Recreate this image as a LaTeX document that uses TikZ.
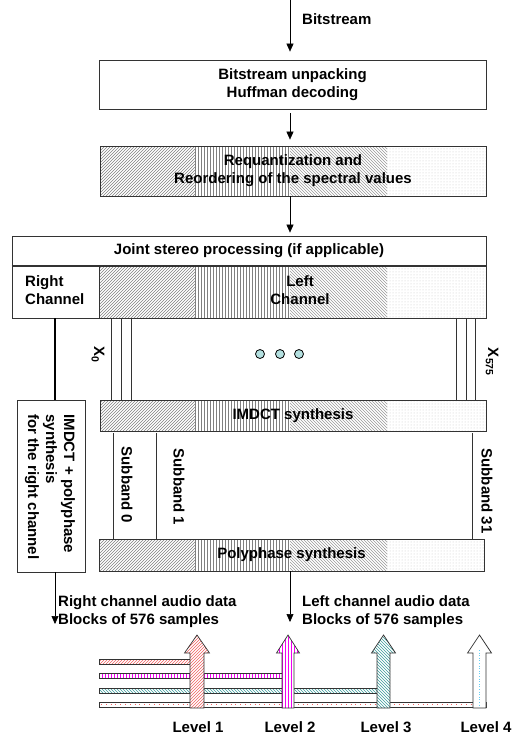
\documentclass[tikz,border=0pt]{standalone}
\usepackage{fontspec}
\setmainfont{Liberation Sans}
\usetikzlibrary{patterns,arrows.meta}
\definecolor{boxline}{HTML}{333333}
\definecolor{hatchgray}{HTML}{808080}
\definecolor{dotgray}{HTML}{C8C8C8}
\definecolor{redh}{HTML}{F06060}
\definecolor{magh}{HTML}{F000F0}
\definecolor{tealh}{HTML}{3A9A9A}
\definecolor{dotcirc}{HTML}{B4E0E0}
\begin{document}
\begin{tikzpicture}[x=1pt,y=-1pt,
  box/.style={draw=boxline, line width=0.8pt, inner sep=0pt},
  lbl/.style={font=\bfseries\fontsize{15}{18}\selectfont, align=center, inner sep=0pt},
  arr/.style={-{Triangle[length=8pt,width=7pt]}, line width=0.6pt},
  thin/.style={line width=0.6pt, draw=boxline},
  segA/.style={pattern=north east lines, pattern color=hatchgray},
  segB/.style={pattern=vertical lines, pattern color=hatchgray},
  segC/.style={pattern=north west lines, pattern color=hatchgray!80},
  segD/.style={pattern=dots, pattern color=dotgray},
  bar/.style={draw=boxline, line width=0.7pt},
]
\useasboundingbox (0,0) rectangle (516,740);

% helper: four-segment hatched band
\newcommand{\bandfill}[4]{%
  \fill[segA] (#1,#3) rectangle (195,#4);
  \fill[segB] (195,#3) rectangle (290,#4);
  \fill[segC] (290,#3) rectangle (387,#4);
  \fill[segD] (387,#3) rectangle (#2,#4);
}

% top input
\coordinate (bs) at (290,0);
\node[lbl, anchor=west] (bstxt) at (302,19) {Bitstream};

% Bitstream unpacking
\node[box, minimum width=387pt, minimum height=49pt] (unpack) at (292.5,84.5) {};
\node[lbl] (unpacktxt) at (unpack.center) {Bitstream unpacking\\Huffman decoding};

% Requantization
\bandfill{100}{486}{146}{196}
\node[box, minimum width=386pt, minimum height=50pt] (requant) at (293,171) {};
\node[lbl] (requanttxt) at (requant.center) {Requantization and\\Reordering of the spectral values};

% Joint stereo
\node[box, minimum width=474pt, minimum height=30pt] (joint) at (249,251) {};
\node[lbl] (jointtxt) at (joint.center) {Joint stereo processing (if applicable)};

% Right / Left channel
\node[box, minimum width=87pt, minimum height=52pt] (right) at (55.5,292) {};
\node[lbl, align=left, anchor=west] (righttxt) at (25,290) {Right\\Channel};
\bandfill{99}{486}{266}{318}
\node[box, minimum width=387pt, minimum height=52pt] (left) at (292.5,292) {};
\node[lbl] (lefttxt) at (300,290) {Left\\Channel};
\draw[boxline, line width=2pt] (joint.south west) -- (joint.south east);

% IMDCT synthesis
\bandfill{100}{486}{400}{431}
\node[box, minimum width=386pt, minimum height=31pt] (imdct) at (293,415.5) {};
\node[lbl] (imdcttxt) at (imdct.center) {IMDCT synthesis};

% Polyphase synthesis
\bandfill{99}{484}{539}{571}
\node[box, minimum width=385pt, minimum height=32pt] (poly) at (291.5,555) {};
\node[lbl] (polytxt) at (poly.center) {Polyphase synthesis};

% right channel box
\node[box, minimum width=68pt, minimum height=172pt, fill=white] (rbox) at (51,486) {};
\node[lbl, align=left, rotate=-90] (rboxtxt) at (50,487) {IMDCT + polyphase\\synthesis\\for the right channel};

% arrows top
\draw[arr, shorten >=8pt] (bs) -- (bs |- unpack.north);
\draw[arr, shorten <=4pt, shorten >=6pt] (unpack.south -| bs) -- (requant.north -| bs);
\draw[arr, shorten >=3pt] (requant.south -| bs) -- (joint.north -| bs);

% right channel thick link
\draw[line width=2.6pt] (55,318) -- (55,400);

% X lines
\foreach \xx in {111,121,131,456,466,475}
  \draw[thin] (\xx,318) -- (\xx,400);
\node[lbl, rotate=-90] (x0) at (98,355) {X\textsubscript{0}};
\node[lbl, rotate=-90] (x575) at (492,362) {X\textsubscript{575}};

% dots
\foreach \cx [count=\i] in {260,280,299}
  \draw[line width=0.8pt, fill=dotcirc] (\cx,354) circle (4.5pt);

% subband lines
\foreach \xx in {113,156,472}
  \draw[thin] (\xx,433) -- (\xx,539);
\node[lbl, rotate=-90] (sb0) at (127,485) {Subband 0};
\node[lbl, rotate=-90] (sb1) at (179,487) {Subband 1};
\node[lbl, rotate=-90] (sb31) at (487,491) {Subband 31};

% outputs
\coordinate (rout) at (55,624);
\coordinate (lout) at (290,622);
\draw[arr] (rbox.south -| rout) -- (rout);
\draw[arr] (poly.south -| lout) -- (lout);
\node[lbl, align=left, anchor=west] (rtxt) at (58,612) {Right channel audio data\\Blocks of 576 samples};
\node[lbl, align=left, anchor=west] (ltxt) at (302,612) {Left channel audio data\\Blocks of 576 samples};

% bars
\draw[bar, pattern=north east lines, pattern color=redh] (99,659) rectangle (190,664);
\draw[bar, pattern=vertical lines, pattern color=magh] (99,673) rectangle (282,678);
\draw[bar, pattern=north west lines, pattern color=tealh] (99,688) rectangle (377,693);
\draw[bar] (99,702) rectangle (486,707);
\draw[redh, line width=0.8pt, dash pattern=on 0.8pt off 4pt] (101,704.5) -- (472,704.5);

% level arrows
\newcommand{\lvlarrow}[3]{% left x of shaft, right x of shaft, style
  \draw[bar, preaction={fill=white}, #3]
    (#1,708) -- (#1,653) -- ({#1-5.5},653) -- ({(#1+#2)/2},635) -- ({#2+5.5},653) -- (#2,653) -- (#2,708) -- cycle;
}
\lvlarrow{190}{204}{pattern=north east lines, pattern color=redh}
\lvlarrow{282}{294}{pattern=vertical lines, pattern color=magh}
\lvlarrow{377}{390}{pattern=north west lines, pattern color=tealh}
\lvlarrow{473}{486}{}
\draw[cyan!60, line width=0.6pt, dotted] (479.5,650) -- (479.5,706);

\node[lbl] (l1) at (198,727) {Level 1};
\node[lbl] (l2) at (290,727) {Level 2};
\node[lbl] (l3) at (386,727) {Level 3};
\node[lbl] (l4) at (486,727) {Level 4};
\end{tikzpicture}
\end{document}
